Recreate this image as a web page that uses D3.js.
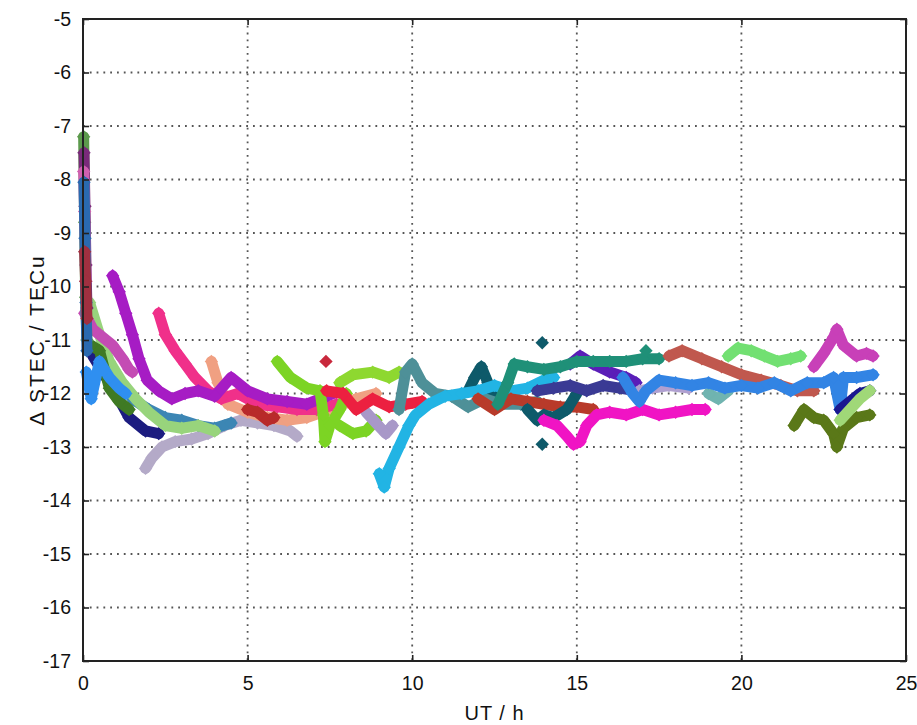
<!DOCTYPE html>
<html>
<head>
<meta charset="utf-8">
<script src="https://cdn.jsdelivr.net/npm/d3@7"></script>
<style>
  body { margin: 0; background: #fff; }
  text { font-family: "Liberation Sans", Arial, sans-serif; }
</style>
</head>
<body>
<div id="chart"></div>
<script>
// ΔSTEC per satellite pass, [UT hours, TECu]
var xTicks = [0, 5, 10, 15, 20, 25];
var yTicks = [-17, -16, -15, -14, -13, -12, -11, -10, -9, -8, -7, -6, -5];

var spikeGreen = [[0.02, -7.2], [0.05, -8.8], [0.08, -10.2], [0.12, -11.0]];
var spikePurple = [[0.03, -7.5], [0.06, -8.5], [0.09, -9.6], [0.12, -10.4]];
var spikePink = [[0.02, -7.85], [0.05, -8.6], [0.09, -9.9]];
var spikeBlue = [[0.03, -8.05], [0.06, -9.1], [0.09, -10.3], [0.12, -11.2]];
var spikeRed = [[0.05, -9.35], [0.08, -9.9], [0.12, -10.6]];

var satC = [[0.05, -10.5], [0.3, -10.8], [0.6, -10.95], [0.9, -11.1], [1.2, -11.35], [1.4, -11.55], [1.5, -11.6]];
var satD = [[0.2, -10.3], [0.5, -10.9], [0.8, -11.4], [1.2, -11.8], [1.6, -12.1], [2.0, -12.35], [2.5, -12.6], [3.0, -12.65], [3.5, -12.6], [4.0, -12.7]];
var satE = [[0.3, -11.3], [0.7, -11.7], [1.0, -12.0], [1.4, -12.45], [1.9, -12.7], [2.3, -12.75]];
var satF = [[0.1, -11.6], [0.25, -12.1], [0.5, -11.4], [0.8, -11.7], [1.1, -11.9], [1.3, -12.0]];
var satG = [[0.25, -11.1], [0.5, -11.2], [0.8, -11.9], [1.1, -12.15], [1.4, -12.3]];
var satH = [[1.5, -12.1], [2.0, -12.3], [2.5, -12.45], [3.0, -12.5], [3.5, -12.6], [4.0, -12.65], [4.5, -12.55]];
var satI = [[1.9, -13.4], [2.1, -13.2], [2.4, -13.0], [2.8, -12.9], [3.3, -12.85], [3.8, -12.75], [4.3, -12.6], [4.8, -12.5], [5.3, -12.55], [5.8, -12.6], [6.3, -12.7], [6.5, -12.8]];
var satA = [[0.9, -9.8], [1.1, -10.1], [1.3, -10.5], [1.5, -10.9], [1.7, -11.35], [1.95, -11.75], [2.3, -11.95], [2.7, -12.1], [3.1, -12.0], [3.5, -11.95], [4.0, -12.05], [4.5, -11.7], [5.0, -11.95], [5.6, -12.1], [6.2, -12.15], [6.8, -12.2], [7.4, -12.05], [7.8, -11.95]];
var satB = [[2.3, -10.5], [2.5, -10.9], [2.8, -11.2], [3.1, -11.45], [3.4, -11.7], [3.8, -11.95], [4.2, -12.1], [4.7, -12.0], [5.3, -12.2], [5.9, -12.25], [6.5, -12.3], [7.1, -12.3], [7.7, -12.2]];
var satJ = [[3.9, -11.4], [4.1, -11.8], [4.4, -12.2], [5.0, -12.35], [5.6, -12.45], [6.2, -12.5], [6.8, -12.45], [7.5, -12.3], [8.3, -12.1], [8.9, -12.0]];
var satM = [[5.0, -12.3], [5.3, -12.35], [5.6, -12.5], [5.8, -12.45]];
var satK1 = [[5.9, -11.4], [6.3, -11.7], [6.8, -11.9], [7.2, -11.95], [7.3, -12.4], [7.35, -12.9], [7.5, -12.6], [7.8, -12.3], [8.0, -12.0]];
var satK2 = [[7.8, -11.8], [8.2, -11.65], [8.8, -11.6], [9.3, -11.7], [9.6, -11.6]];
var satK3 = [[7.8, -12.6], [8.2, -12.75], [8.6, -12.7], [8.9, -12.5]];
var satL = [[7.4, -11.95], [7.9, -12.0], [8.3, -12.3], [8.8, -12.1], [9.3, -12.25], [9.8, -12.2], [10.3, -12.15]];
var satLdot = [[7.38, -11.4]];
var satAE = [[8.6, -12.35], [8.9, -12.55], [9.2, -12.75], [9.4, -12.6]];
var satO = [[9.0, -13.5], [9.15, -13.75], [9.3, -13.4], [9.6, -13.0], [9.9, -12.6], [10.1, -12.4], [10.5, -12.2], [11.0, -12.05], [11.5, -12.0], [12.0, -11.95], [12.5, -11.85], [13.0, -11.95], [13.5, -11.9], [14.0, -11.75], [14.3, -11.7]];
var satP = [[9.6, -12.3], [9.8, -11.6], [10.0, -11.45], [10.3, -11.8], [10.7, -12.0], [11.2, -12.05], [11.7, -12.25], [12.2, -12.1], [12.7, -12.2], [13.3, -12.2], [13.8, -12.15]];
var satQ1 = [[11.7, -11.95], [11.9, -11.7], [12.1, -11.5], [12.3, -11.8], [12.5, -12.1]];
var satN = [[12.0, -12.1], [12.5, -12.3], [13.0, -12.1], [13.5, -12.15], [14.0, -12.2], [14.5, -12.25], [15.0, -12.25], [15.5, -12.3]];
var satQ2 = [[13.5, -12.3], [13.8, -12.5], [14.0, -12.4], [14.3, -12.45], [14.7, -12.3], [15.0, -12.0]];
var satQdotHigh = [[13.95, -11.05]];
var satQdotLow = [[13.95, -12.95]];
var satR = [[12.6, -12.2], [12.9, -11.8], [13.1, -11.45], [13.5, -11.5], [14.0, -11.55], [14.5, -11.5], [15.0, -11.4], [15.5, -11.4], [16.0, -11.4], [16.5, -11.4], [17.0, -11.35], [17.5, -11.35]];
var satRdot = [[17.1, -11.2]];
var satS = [[13.8, -11.95], [14.3, -11.9], [14.8, -11.85], [15.3, -11.95], [15.8, -11.85], [16.3, -11.9], [16.8, -11.95]];
var satT = [[14.8, -11.45], [15.1, -11.3], [15.5, -11.45], [16.0, -11.6], [16.5, -11.7], [16.8, -11.8]];
var satU = [[14.0, -12.5], [14.4, -12.6], [14.7, -12.8], [14.9, -12.95], [15.1, -12.9], [15.3, -12.6], [15.6, -12.4], [16.0, -12.35], [16.5, -12.4], [17.0, -12.3], [17.5, -12.4], [18.0, -12.35], [18.5, -12.3], [18.9, -12.3]];
var satAD = [[16.9, -11.95], [17.3, -11.9], [17.8, -11.85], [18.4, -11.9]];
var satW = [[17.8, -11.3], [18.2, -11.2], [18.8, -11.35], [19.4, -11.5], [20.0, -11.65], [20.6, -11.75], [21.2, -11.85], [21.7, -11.95], [22.2, -11.95]];
var satX = [[19.6, -11.3], [19.9, -11.15], [20.3, -11.2], [20.7, -11.3], [21.1, -11.4], [21.5, -11.35], [21.8, -11.3]];
var satAC = [[19.0, -12.0], [19.3, -12.1], [19.6, -11.95]];
var satV = [[16.4, -11.7], [16.7, -12.0], [16.9, -12.15], [17.1, -11.95], [17.5, -11.75], [18.0, -11.8], [18.5, -11.85], [19.0, -11.8], [19.5, -11.9], [20.0, -11.85], [20.5, -11.9], [21.0, -11.8], [21.5, -11.95], [22.0, -11.8], [22.5, -11.8], [22.8, -11.7], [23.0, -12.3], [23.1, -11.7], [23.5, -11.7], [24.0, -11.65]];
var satY = [[22.2, -11.5], [22.5, -11.25], [22.8, -10.95], [22.9, -10.8], [23.1, -11.1], [23.5, -11.3], [23.8, -11.25], [24.0, -11.3]];
var satZ = [[21.6, -12.6], [21.9, -12.3], [22.2, -12.45], [22.5, -12.5], [22.8, -12.75], [22.9, -13.0], [23.1, -12.65], [23.5, -12.45], [23.9, -12.4]];
var satAB = [[23.0, -12.3], [23.3, -12.15], [23.6, -12.0], [23.9, -11.95]];
var satAA = [[23.0, -12.5], [23.3, -12.3], [23.6, -12.1], [23.9, -11.95]];

var series = [
  { pts: satI, color: "#b4aac8" },
  { pts: satH, color: "#3c86b4" },
  { pts: satE, color: "#1c1c80" },
  { pts: satD, color: "#98d47c" },
  { pts: satG, color: "#3f7a24" },
  { pts: satF, color: "#2f8ff0" },
  { pts: satC, color: "#c44cb4" },
  { pts: spikeGreen, color: "#5c9a4c" },
  { pts: spikePurple, color: "#7a2a7a" },
  { pts: spikePink, color: "#d060b0" },
  { pts: spikeBlue, color: "#2a6ab0" },
  { pts: spikeRed, color: "#a03040" },
  { pts: satJ, color: "#f0a082" },
  { pts: satB, color: "#f0308a" },
  { pts: satA, color: "#a61cc4" },
  { pts: satM, color: "#b82a2a" },
  { pts: satK3, color: "#7cd424" },
  { pts: satK1, color: "#7cd424" },
  { pts: satK2, color: "#8ed830" },
  { pts: satAE, color: "#a898c8" },
  { pts: satL, color: "#ec2040" },
  { pts: satLdot, color: "#c8283c" },
  { pts: satQ1, color: "#0e5a6a" },
  { pts: satP, color: "#4e9098" },
  { pts: satO, color: "#22b4e4" },
  { pts: satN, color: "#b83a2a" },
  { pts: satQ2, color: "#0e5a6a" },
  { pts: satQdotHigh, color: "#0e5a6a" },
  { pts: satQdotLow, color: "#0e5a6a" },
  { pts: satU, color: "#f014c4" },
  { pts: satS, color: "#3a3a94" },
  { pts: satT, color: "#5a1eb8" },
  { pts: satR, color: "#1f9078" },
  { pts: satRdot, color: "#1f9078" },
  { pts: satAD, color: "#b0a0d0" },
  { pts: satW, color: "#c0584e" },
  { pts: satX, color: "#72e072" },
  { pts: satAC, color: "#70b4b0" },
  { pts: satV, color: "#3284e4" },
  { pts: satZ, color: "#5a7818" },
  { pts: satY, color: "#c840b8" },
  { pts: satAB, color: "#1a1890" },
  { pts: satAA, color: "#a0d878" }
];

var svgWidth = 917;
var svgHeight = 725;
var margin = { top: 19, right: 11, bottom: 64, left: 83 };
var width = svgWidth - margin.left - margin.right;
var height = svgHeight - margin.top - margin.bottom;

var svg = d3.select("#chart")
  .append("svg")
  .attr("width", svgWidth)
  .attr("height", svgHeight);

var chartGroup = svg.append("g")
  .attr("transform", `translate(${margin.left}, ${margin.top})`);

var x = d3.scaleLinear().domain([0, 25]).range([0, width]);
var y = d3.scaleLinear().domain([-17, -5]).range([height, 0]);

// dotted grid
chartGroup.append("g")
  .selectAll("line")
  .data(xTicks.slice(1, -1))
  .enter()
  .append("line")
  .attr("x1", d => x(d)).attr("x2", d => x(d))
  .attr("y1", 0).attr("y2", height)
  .attr("stroke", "#555")
  .attr("stroke-width", 1.8)
  .attr("stroke-dasharray", "1.8,5");

chartGroup.append("g")
  .selectAll("line")
  .data(yTicks.slice(1, -1))
  .enter()
  .append("line")
  .attr("x1", 0).attr("x2", width)
  .attr("y1", d => y(d)).attr("y2", d => y(d))
  .attr("stroke", "#555")
  .attr("stroke-width", 1.8)
  .attr("stroke-dasharray", "1.8,5");

// data: thick trace plus diamond markers
var line = d3.line().x(d => x(d[0])).y(d => y(d[1]));
var diamond = d3.symbol().type(d3.symbolSquare).size(90);

var plotGroup = chartGroup.append("g");
series.forEach(function(s) {
  if (s.pts.length > 1) {
    plotGroup.append("path")
      .attr("d", line(s.pts))
      .attr("fill", "none")
      .attr("stroke", s.color)
      .attr("stroke-width", 11)
      .attr("stroke-linejoin", "round")
      .attr("stroke-linecap", "round");
  }
  plotGroup.selectAll(null)
    .data(s.pts)
    .enter()
    .append("path")
    .attr("d", diamond)
    .attr("transform", d => `translate(${x(d[0])}, ${y(d[1])}) rotate(45)`)
    .attr("fill", s.color);
});

// axes with inward ticks
var fmt = d => String(d);
var bottomAxis = d3.axisBottom(x).tickValues(xTicks).tickSize(-6).tickPadding(15).tickFormat(fmt);
var leftAxis = d3.axisLeft(y).tickValues(yTicks).tickSize(-6).tickPadding(12).tickFormat(fmt);

var xAxisG = chartGroup.append("g")
  .attr("transform", `translate(0, ${height})`)
  .call(bottomAxis);
var yAxisG = chartGroup.append("g").call(leftAxis);
chartGroup.append("g").call(d3.axisTop(x).tickValues(xTicks).tickSize(-6).tickFormat(""));
chartGroup.append("g")
  .attr("transform", `translate(${width}, 0)`)
  .call(d3.axisRight(y).tickValues(yTicks).tickSize(-6).tickFormat(""));

chartGroup.selectAll(".domain").remove();
chartGroup.selectAll(".tick line").attr("stroke", "#222").attr("stroke-width", 1.6);
xAxisG.selectAll("text").attr("font-size", 19.5).attr("fill", "#111");
yAxisG.selectAll("text").attr("font-size", 19.5).attr("fill", "#111");

chartGroup.append("rect")
  .attr("width", width)
  .attr("height", height)
  .attr("fill", "none")
  .attr("stroke", "#222")
  .attr("stroke-width", 2);

// axis labels
svg.append("text")
  .attr("x", margin.left + width / 2)
  .attr("y", 720)
  .attr("text-anchor", "middle")
  .attr("font-size", 20)
  .attr("letter-spacing", 1)
  .attr("fill", "#111")
  .text("UT / h");

svg.append("text")
  .attr("transform", `translate(44, ${margin.top + height / 2}) rotate(-90)`)
  .attr("text-anchor", "middle")
  .attr("font-size", 21)
  .attr("letter-spacing", 2)
  .attr("fill", "#111")
  .text("Δ STEC / TECu");
</script>
</body>
</html>
